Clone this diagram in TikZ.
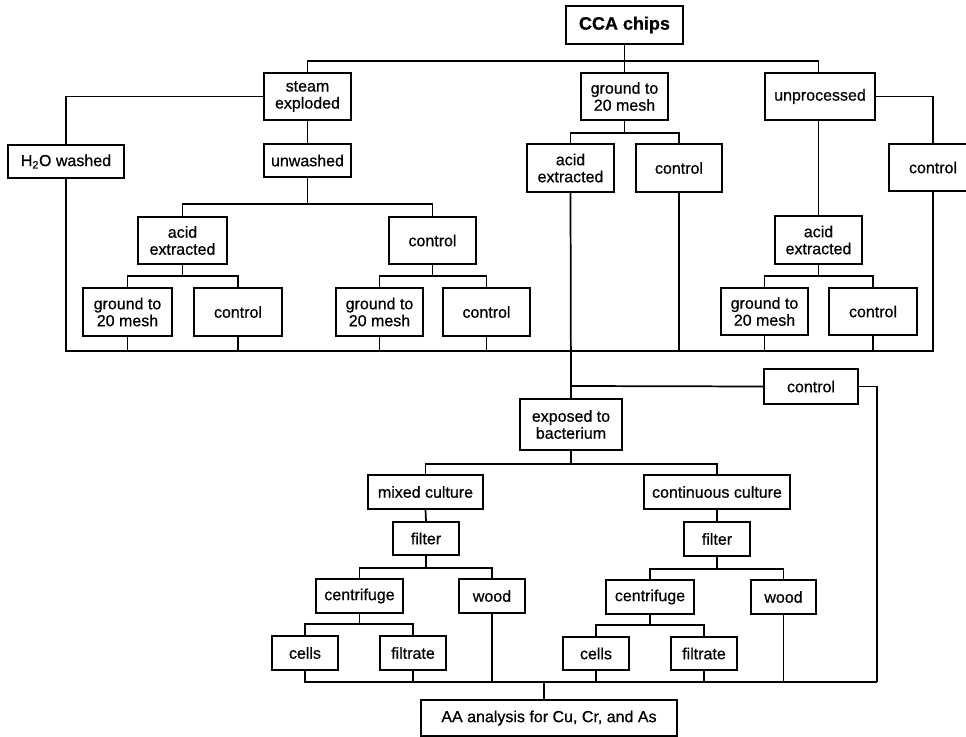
\documentclass[tikz,border=0pt]{standalone}
\usepackage{fontspec}
\setmainfont{Liberation Sans}[RawFeature={embolden=0.6}]
\newcommand\mybox[6]{\node[box, minimum width={(#4-#2)*0.75pt}, minimum height={(#5-#3)*0.75pt}] (#1) at ({(#2+#4)/2},{(#3+#5)/2}) {#6};}
\newcommand\mytree[4]{%
  \draw[conn] (#1.south) -- (#1.south |- 0,#2);
  \draw[conn] (#3.north) |- (#4.north |- 0,#2) -- (#4.north);}
\newcommand\tobus[2]{\draw[conn] (#1.south) -- (#1.south |- 0,#2);}
\begin{document}
\begin{tikzpicture}[x=0.75pt,y=-0.75pt,
  box/.style={draw, line width=1.3pt, align=center, inner sep=0pt,
    font=\fontsize{12}{12.75}\selectfont},
  conn/.style={line width=1.3pt}]
\useasboundingbox (0,0) rectangle (966,737);
\clip (0,0) rectangle (966,737);
% boxes
\mybox{cca}{566}{6}{683}{44}{\fontsize{13.5}{15}\selectfont\bfseries CCA chips}
\mybox{steam}{264}{73}{351}{120}{steam\\exploded}
\mybox{gr1}{581}{73}{668}{120}{ground to\\20 mesh}
\mybox{unproc}{765}{73}{875}{120}{unprocessed}
\mybox{h2o}{8}{145}{124}{178}{H\textsubscript{2}O washed}
\mybox{unwashed}{264}{144}{351}{177}{unwashed}
\mybox{acidA}{527}{144}{614}{192}{acid\\extracted}
\mybox{ctrlA}{636}{144}{722}{192}{control}
\mybox{ctrlR}{889}{144}{977}{191}{control}
\mybox{acidL}{138}{217}{227}{264}{acid\\extracted}
\mybox{ctrlL}{389}{217}{476}{264}{control}
\mybox{acidR}{775}{216}{862}{264}{acid\\extracted}
\mybox{grLL}{83}{288}{172}{336}{ground to\\20 mesh}
\mybox{ctLL}{194}{288}{282}{336}{control}
\mybox{grLM}{336}{288}{423}{336}{ground to\\20 mesh}
\mybox{ctLM}{443}{288}{530}{336}{control}
\mybox{grRR}{721}{288}{808}{335}{ground to\\20 mesh}
\mybox{ctRR}{829}{288}{917}{335}{control}
\mybox{ctrlB}{764}{369}{858}{404}{control}
\mybox{exposed}{520}{399}{622}{450}{exposed to\\bacterium}
\mybox{mixed}{368}{475}{483}{509}{mixed culture}
\mybox{cont}{644}{475}{790}{509}{continuous culture}
\mybox{filtL}{393}{522}{459}{555}{filter}
\mybox{filtR}{684}{522}{750}{556}{filter}
\mybox{centL}{316}{579}{403}{613}{centrifuge}
\mybox{woodL}{459}{579}{525}{613}{wood}
\mybox{centR}{606}{580}{694}{614}{centrifuge}
\mybox{woodR}{751}{580}{816}{614}{wood}
\mybox{cellsL}{272}{636}{338}{670}{cells}
\mybox{filtrL}{380}{636}{446}{670}{filtrate}
\mybox{cellsR}{563}{637}{629}{670}{cells}
\mybox{filtrR}{671}{637}{737}{670}{filtrate}
\mybox{aa}{421}{700}{677}{736}{AA analysis for Cu, Cr, and As}
% upper tree
\draw[conn] (cca.south) -- (cca.south |- 0,61);
\draw[conn] (steam.north) |- (acidR.north |- 0,61) -- (acidR.north |- unproc.north);
\draw[conn] (gr1.north) -- (gr1.north |- 0,61);
\draw[conn] (steam.west) -| (h2o.north);
\draw[conn] (steam.south) -- (unwashed.north);
\mytree{unwashed}{204}{acidL}{ctrlL}
\mytree{acidL}{276}{grLL}{ctLL}
\mytree{ctrlL}{276}{grLM}{ctLM}
\mytree{gr1}{133}{acidA}{ctrlA}
\draw[conn] (unproc.east) -| (ctrlR.north);
\draw[conn] (acidR.north |- unproc.south) -- (acidR.north);
\mytree{acidR}{276}{grRR}{ctRR}
% collecting bus
\draw[conn] (h2o.south) |- (ctrlR.south |- 0,351) -- (ctrlR.south);
\tobus{grLL}{351}
\tobus{ctLL}{351}
\tobus{grLM}{351}
\tobus{ctLM}{351}
\tobus{ctrlA}{351}
\tobus{grRR}{351}
\tobus{ctRR}{351}
% to bacterium
\draw[conn] (acidA.south) -- (exposed.north);
\draw[conn] (acidA.south |- 0,386) -- (ctrlB.west);
\coordinate (endR) at (877,682);
\draw[conn] (ctrlB.east) -| (endR);
\mytree{exposed}{464}{mixed}{cont}
\draw[conn] (mixed.south) -- (filtL.north);
\draw[conn] (cont.south) -- (filtR.north);
\mytree{filtL}{568}{centL}{woodL}
\mytree{filtR}{569}{centR}{woodR}
\mytree{centL}{624}{cellsL}{filtrL}
\mytree{centR}{625}{cellsR}{filtrR}
% final bus
\draw[conn] (cellsL.south) |- (endR);
\tobus{filtrL}{682}
\tobus{woodL}{682}
\tobus{cellsR}{682}
\tobus{filtrR}{682}
\tobus{woodR}{682}
\coordinate (aaj) at (544,682);
\draw[conn] (aaj) -- (aaj |- aa.north);
\end{tikzpicture}
\end{document}
